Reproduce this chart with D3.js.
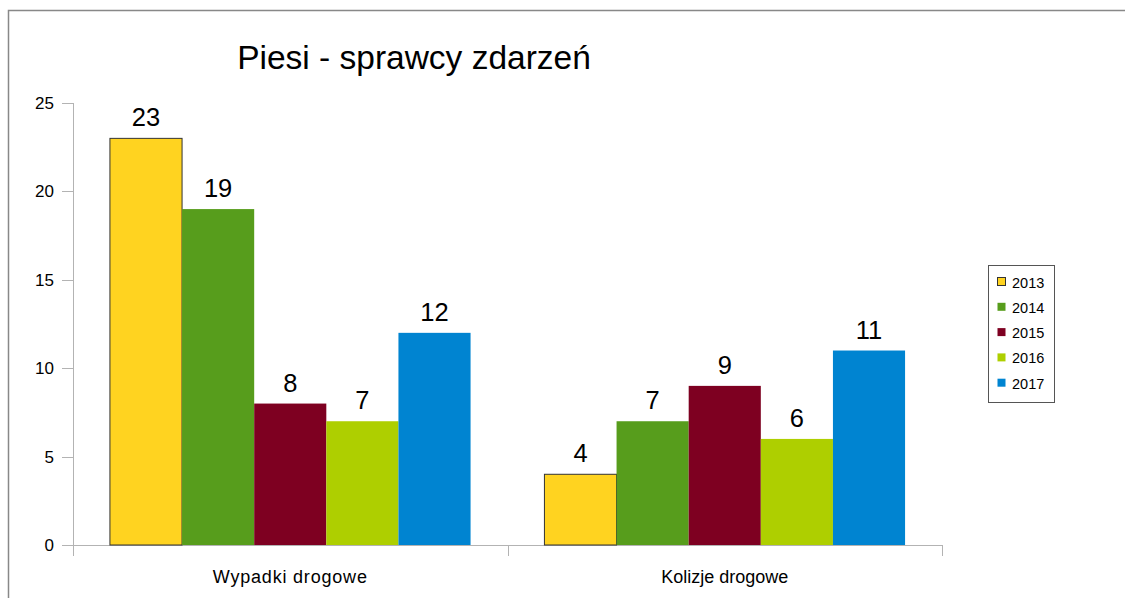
<!DOCTYPE html>
<html>
<head>
<meta charset="utf-8">
<script src="https://cdn.jsdelivr.net/npm/d3@7"></script>
<style>
body { margin: 0; background: #fff; }
text { font-family: "Liberation Sans", Arial, sans-serif; }
</style>
</head>
<body>
<script>
// chart data
var categories = ["Wypadki drogowe", "Kolizje drogowe"];
var years = ["2013", "2014", "2015", "2016", "2017"];
var colors = ["#ffd320", "#579d1c", "#7e0021", "#aecf00", "#0084d1"];
var values = [
	[23, 19, 8, 7, 12],
	[4, 7, 9, 6, 11]
];
var yTicks = [0, 5, 10, 15, 20, 25];

var width = 1125,
	height = 598;

var svg = d3.select("body")
	.append("svg")
	.attr("width", width)
	.attr("height", height);

// outer frame
svg.append("rect")
	.attr("x", 8.5)
	.attr("y", 10.5)
	.attr("width", 1200)
	.attr("height", 700)
	.attr("fill", "none")
	.attr("stroke", "#888")
	.attr("stroke-width", 1.5);

// title
svg.append("text")
	.attr("x", 414)
	.attr("y", 69)
	.attr("text-anchor", "middle")
	.attr("font-size", 33.5)
	.attr("fill", "#000")
	.text("Piesi - sprawcy zdarzeń");

// scales
var x0 = d3.scaleBand()
	.domain(categories)
	.range([73, 942])
	.paddingInner(0.17)
	.paddingOuter(0.085);

var x1 = d3.scaleBand()
	.domain(years)
	.range([0, x0.bandwidth()]);

var y = d3.scaleLinear()
	.domain([0, 25])
	.range([545, 103]);

// y axis
var yAxis = svg.append("g");
yAxis.append("line")
	.attr("x1", 73.5).attr("x2", 73.5)
	.attr("y1", y(25)).attr("y2", y(0) + 11)
	.attr("stroke", "#b3b3b3");
yAxis.selectAll(".ytick")
	.data(yTicks)
	.enter()
	.append("line")
	.attr("x1", 62).attr("x2", 73)
	.attr("y1", function(d){ return Math.round(y(d)) + 0.5; })
	.attr("y2", function(d){ return Math.round(y(d)) + 0.5; })
	.attr("stroke", "#b3b3b3");
yAxis.selectAll(".ylabel")
	.data(yTicks)
	.enter()
	.append("text")
	.attr("x", 54)
	.attr("y", function(d){ return y(d) + 6; })
	.attr("text-anchor", "end")
	.attr("font-size", 17)
	.text(function(d){ return d; });

// x axis
var xAxis = svg.append("g");
xAxis.append("line")
	.attr("x1", 62).attr("x2", 942)
	.attr("y1", 545.5).attr("y2", 545.5)
	.attr("stroke", "#b3b3b3");
var xTicks = [73, 508, 942];
xAxis.selectAll(".xtick")
	.data(xTicks)
	.enter()
	.append("line")
	.attr("x1", function(d){ return d + 0.5; })
	.attr("x2", function(d){ return d + 0.5; })
	.attr("y1", 545).attr("y2", 556)
	.attr("stroke", "#b3b3b3");
xAxis.selectAll(".xlabel")
	.data(categories)
	.enter()
	.append("text")
	.attr("x", function(d){ return x0(d) + x0.bandwidth() / 2; })
	.attr("y", 583)
	.attr("text-anchor", "middle")
	.attr("font-size", 18)
	.attr("letter-spacing", function(d, i){ return i === 0 ? 0.8 : 0; })
	.text(function(d){ return d; });

// bars
var groups = svg.selectAll(".group")
	.data(categories)
	.enter()
	.append("g")
	.attr("transform", function(d){ return "translate(" + x0(d) + ",0)"; });

groups.selectAll("rect")
	.data(function(d, i){ return values[i].map(function(v, j){ return {year: years[j], value: v, idx: j}; }); })
	.enter()
	.append("rect")
	.attr("x", function(d){ return x1(d.year); })
	.attr("y", function(d){ return y(d.value); })
	.attr("width", x1.bandwidth())
	.attr("height", function(d){ return y(0) - y(d.value); })
	.attr("fill", function(d){ return colors[d.idx]; })
	.attr("stroke", function(d){ return d.idx === 0 ? "#333" : "none"; })
	.attr("stroke-width", 1);

// value labels
groups.selectAll(".val")
	.data(function(d, i){ return values[i].map(function(v, j){ return {year: years[j], value: v}; }); })
	.enter()
	.append("text")
	.attr("x", function(d){ return x1(d.year) + x1.bandwidth() / 2; })
	.attr("y", function(d){ return y(d.value) - 12; })
	.attr("text-anchor", "middle")
	.attr("font-size", 25.5)
	.text(function(d){ return d.value; });

// legend
var legend = svg.append("g");
legend.append("rect")
	.attr("x", 988.5)
	.attr("y", 265.5)
	.attr("width", 66)
	.attr("height", 137)
	.attr("fill", "#fff")
	.attr("stroke", "#555");

var items = legend.selectAll(".item")
	.data(years)
	.enter()
	.append("g")
	.attr("transform", function(d, i){ return "translate(997," + (282 + i * 25.3) + ")"; });
items.append("rect")
	.attr("x", 0.5)
	.attr("y", -4.5)
	.attr("width", 8)
	.attr("height", 8)
	.attr("fill", function(d, i){ return colors[i]; })
	.attr("stroke", function(d, i){ return i === 0 ? "#333" : "none"; });
items.append("text")
	.attr("x", 15)
	.attr("y", 5.5)
	.attr("font-size", 14.5)
	.text(function(d){ return d; });
</script>
</body>
</html>
